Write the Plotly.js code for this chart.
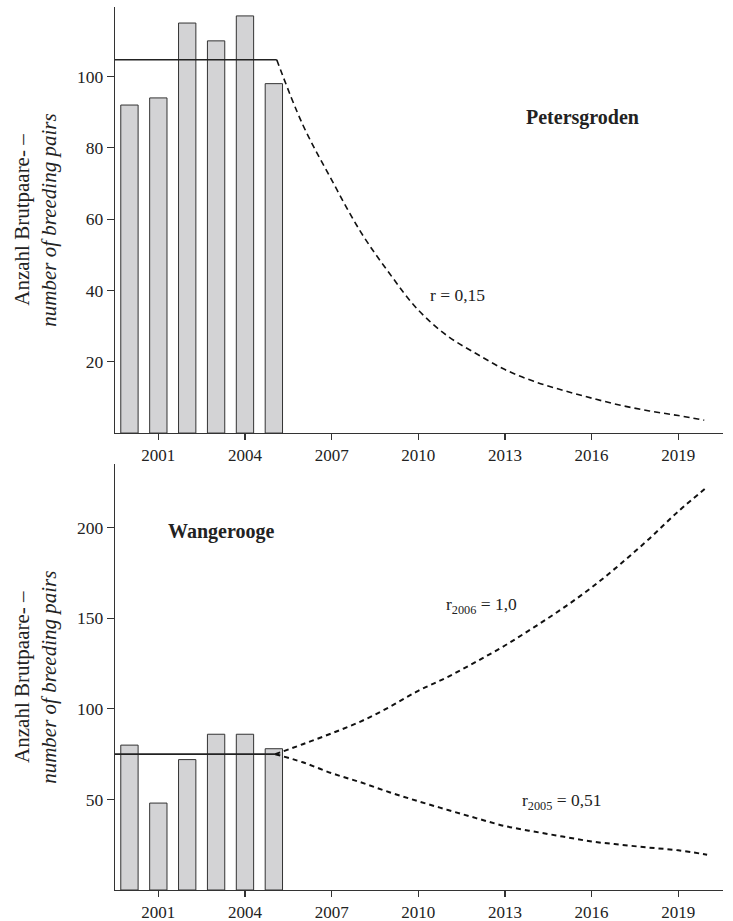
<!DOCTYPE html>
<html>
<head>
<meta charset="utf-8">
<script src="https://cdn.plot.ly/plotly-3.0.1.min.js"></script>
<style>html,body{margin:0;padding:0;background:#fff;}#chart{width:733px;height:921px;}</style>
</head>
<body>
<div id="chart"></div>
<script>
// ---- data ----
const years = [2000, 2001, 2002, 2003, 2004, 2005];
const petersBars = [92, 94, 115, 110, 117, 98];
const wangerBars = [80, 48, 72, 86, 86, 78];

const meanStartYear = 1999.5;
const petersMean = 104.7;
const wangerMean = 75;

const petersProjYears = [2005.1, 2006, 2007, 2008, 2009, 2010, 2011, 2012, 2013, 2014, 2015, 2016, 2017, 2018, 2019, 2019.9];
const petersProj = [104.7, 86.5, 71, 56.5, 44.8, 34.5, 27.3, 22.3, 17.8, 14.5, 12, 9.8, 7.8, 6.2, 4.9, 3.6];

const wangerProjYears = [2005.05, 2006, 2007, 2008, 2009, 2010, 2011, 2012, 2013, 2014, 2015, 2016, 2017, 2018, 2019, 2020];
const wangerProjHigh = [75, 80.5, 86.5, 93, 101, 110, 117.5, 126, 135, 145, 155.5, 167, 180, 194, 209, 222.5];
const wangerProjLow = [75, 70.5, 64.5, 59.5, 54, 49, 44.3, 39.7, 35.3, 32.3, 29.5, 26.8, 25, 23.4, 21.9, 19.5];

const xTicks = [2001, 2004, 2007, 2010, 2013, 2016, 2019];
const petersYTicks = [20, 40, 60, 80, 100];
const wangerYTicks = [50, 100, 150, 200];

const yTitle = 'Anzahl Brutpaare- –<br><i>number of breeding pairs</i>';

// ---- style ----
const FONT = 'Liberation Serif, Times New Roman, serif';
const INK = '#222';
const barStyle = {color: '#d3d3d5', line: {color: '#333', width: 1}};

const traces = [
  {type: 'bar', x: years, y: petersBars, width: 0.6, marker: barStyle, xaxis: 'x', yaxis: 'y', hoverinfo: 'x+y'},
  {type: 'scatter', mode: 'lines', x: [meanStartYear, petersProjYears[0]], y: [petersMean, petersMean],
   line: {color: '#222', width: 1.6}, xaxis: 'x', yaxis: 'y'},
  {type: 'scatter', mode: 'lines', x: petersProjYears, y: petersProj, line: {color: '#111', width: 1.6, dash: '6px,4px', shape: 'spline'},
   xaxis: 'x', yaxis: 'y'},

  {type: 'bar', x: years, y: wangerBars, width: 0.6, marker: barStyle, xaxis: 'x2', yaxis: 'y2', hoverinfo: 'x+y'},
  {type: 'scatter', mode: 'lines', x: [meanStartYear, wangerProjYears[0]], y: [wangerMean, wangerMean],
   line: {color: '#222', width: 1.6}, xaxis: 'x2', yaxis: 'y2'},
  {type: 'scatter', mode: 'lines', x: wangerProjYears, y: wangerProjHigh, line: {color: '#111', width: 2, dash: '5px,4px', shape: 'spline'},
   xaxis: 'x2', yaxis: 'y2'},
  {type: 'scatter', mode: 'lines', x: wangerProjYears, y: wangerProjLow, line: {color: '#111', width: 2, dash: '5px,4px', shape: 'spline'},
   xaxis: 'x2', yaxis: 'y2'}
];

function xAxis(anchor) {
  return {
    anchor: anchor, range: [1999.5, 2020.55], tickvals: xTicks, ticktext: xTicks.map(String),
    showline: true, linecolor: '#333', linewidth: 1.3, ticks: 'outside', ticklen: 6, tickwidth: 1.2, tickcolor: '#333',
    showgrid: false, zeroline: false, tickfont: {family: FONT, size: 17, color: INK}, fixedrange: true
  };
}
function yAxis(anchor, domain, range, tv) {
  return {
    anchor: anchor, domain: domain, range: range, tickvals: tv, ticktext: tv.map(String),
    showline: true, linecolor: '#333', linewidth: 1.3, ticks: 'outside', ticklen: 7, tickwidth: 1.2, tickcolor: '#333',
    showgrid: false, zeroline: false, tickfont: {family: FONT, size: 17.5, color: INK},
    title: {text: yTitle, font: {family: FONT, size: 21, color: INK}, standoff: 14}, fixedrange: true
  };
}

const layout = {
  width: 733, height: 921,
  margin: {l: 115, r: 10, t: 7, b: 31},
  paper_bgcolor: '#fff', plot_bgcolor: '#fff',
  showlegend: false,
  bargap: 0,
  xaxis: xAxis('y'),
  yaxis: yAxis('x', [0.5175, 1], [0, 119.5], petersYTicks),
  xaxis2: xAxis('y2'),
  yaxis2: yAxis('x2', [0, 0.482], [0, 235], wangerYTicks),
  annotations: [
    {xref: 'x', yref: 'y', x: 2015.7, y: 88.5, text: '<b>Petersgroden</b>', showarrow: false,
     font: {family: FONT, size: 20, color: INK}},
    {xref: 'x', yref: 'y', x: 2011.35, y: 38.7, text: 'r = 0,15', showarrow: false,
     font: {family: FONT, size: 17.5, color: INK}},
    {xref: 'x2', yref: 'y2', x: 2003.18, y: 197.9, text: '<b>Wangerooge</b>', showarrow: false,
     font: {family: FONT, size: 20, color: INK}},
    {xref: 'x2', yref: 'y2', x: 2012.18, y: 157, text: 'r<sub>2006</sub> = 1,0', showarrow: false,
     font: {family: FONT, size: 17.5, color: INK}},
    {xref: 'x2', yref: 'y2', x: 2014.96, y: 48.6, text: 'r<sub>2005</sub> = 0,51', showarrow: false,
     font: {family: FONT, size: 17.5, color: INK}}
  ]
};

Plotly.newPlot('chart', traces, layout, {displayModeBar: false, staticPlot: true});
</script>
</body>
</html>
